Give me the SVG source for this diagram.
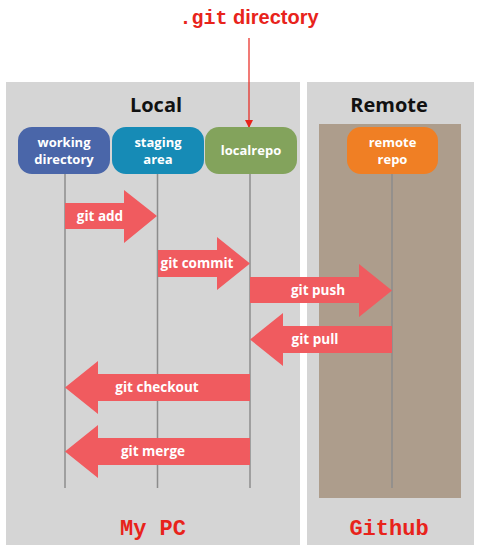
<svg xmlns="http://www.w3.org/2000/svg" width="480" height="549" viewBox="0 0 480 549">
<style>
.panel{fill:#d5d5d5}
.node text{fill:#fff;font-family:"Open Sans",sans-serif;font-weight:bold;font-size:13px;text-anchor:middle}
.title{font-family:"Open Sans",sans-serif;font-weight:bold;font-size:20px;fill:#111;text-anchor:middle}
.mono{font-family:"Liberation Mono","DejaVu Sans Mono",monospace;font-weight:bold;fill:#e8231b}
.life{stroke:#8c8c8c;stroke-width:1.5}
.arr{fill:#f05b5f}
.lbl{fill:#fff;font-family:"Open Sans",sans-serif;font-weight:bold;font-size:13.5px;text-anchor:middle}
</style>
<defs>
<marker id="ah" markerWidth="8" markerHeight="8" refX="7" refY="4" orient="auto" markerUnits="userSpaceOnUse">
<path d="M0,0 L8,4 L0,8 z" fill="#e8231b"/>
</marker>
</defs>
<rect width="480" height="549" fill="#fff"/>
<g id="panel-local"><rect class="panel" x="6" y="82" width="294" height="463"/>
<text class="title" x="156" y="112">Local</text>
<text class="mono" x="153" y="535" font-size="22" text-anchor="middle">My PC</text></g>
<g id="panel-remote"><rect class="panel" x="307" y="82" width="167" height="463"/>
<rect x="319" y="124" width="142" height="374" fill="#ad9d8c"/>
<text class="title" x="389" y="112">Remote</text>
<text class="mono" x="389" y="535" font-size="22" text-anchor="middle">Github</text></g>
<g id="git-dir-label"><text x="249" y="24" font-size="20" text-anchor="middle" fill="#e8231b" font-weight="bold"><tspan font-family="Liberation Mono,monospace">.git</tspan><tspan font-family="Liberation Sans,Arial,sans-serif"> directory</tspan></text></g>
<g id="connectors">
<line class="life" x1="65" y1="174" x2="65" y2="488"/>
<line class="life" x1="157.5" y1="174" x2="157.5" y2="488"/>
<line class="life" x1="250" y1="174" x2="250" y2="488"/>
<line class="life" x1="392" y1="174" x2="392" y2="488"/>
<line x1="249" y1="38" x2="249" y2="127" stroke="#e8231b" stroke-width="1.2" marker-end="url(#ah)"/>
<g id="git-add"><path class="arr" d="M65,203 H124 V190 L157,216 L124,243 V229 H65 z"/><text class="lbl" x="100" y="221">git add</text></g>
<g id="git-commit"><path class="arr" d="M158,250 H217 V237 L250,263.5 L217,290 V277 H158 z"/><text class="lbl" x="197" y="268">git commit</text></g>
<g id="git-push"><path class="arr" d="M250,277 H359 V264 L392,290.5 L359,317 V303 H250 z"/><text class="lbl" x="318" y="295">git push</text></g>
<g id="git-pull"><path class="arr" d="M392,326 H283 V313 L250,339.5 L283,366 V353 H392 z"/><text class="lbl" x="315" y="344">git pull</text></g>
<g id="git-checkout"><path class="arr" d="M250,374 H98 V361 L65,387.5 L98,414 V401 H250 z"/><text class="lbl" x="157" y="392">git checkout</text></g>
<g id="git-merge"><path class="arr" d="M250,438 H98 V425 L65,451.5 L98,478 V465 H250 z"/><text class="lbl" x="153" y="456">git merge</text></g>
</g>
<g id="working-directory" class="node"><rect x="18" y="127" width="92" height="47" rx="14" fill="#4a66a9"/><text x="64" y="147">working</text><text x="64" y="164">directory</text></g>
<g id="staging-area" class="node"><rect x="112" y="127" width="92" height="47" rx="14" fill="#168bb6"/><text x="158" y="147">staging</text><text x="158" y="164">area</text></g>
<g id="localrepo" class="node"><rect x="205" y="127" width="92" height="47" rx="14" fill="#83a35c"/><text x="251" y="155">localrepo</text></g>
<g id="remote-repo" class="node"><rect x="347" y="127" width="91" height="47" rx="14" fill="#f07f24"/><text x="392.5" y="147">remote</text><text x="392.5" y="164">repo</text></g>
</svg>
